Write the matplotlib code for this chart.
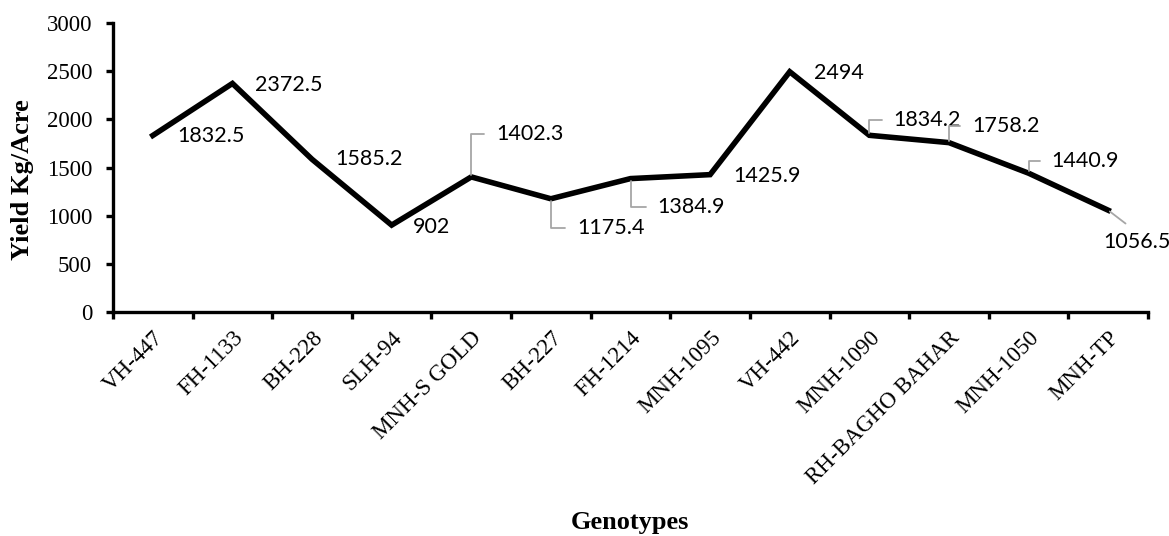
import numpy as np
import matplotlib
matplotlib.use("Agg")
import matplotlib.pyplot as plt

genotypes = ["VH-447", "FH-1133", "BH-228", "SLH-94", "MNH-S GOLD", "BH-227",
             "FH-1214", "MNH-1095", "VH-442", "MNH-1090", "RH-BAGHO BAHAR",
             "MNH-1050", "MNH-TP"]
yield_kg = [1832.5, 2372.5, 1585.2, 902, 1402.3, 1175.4, 1384.9, 1425.9,
            2494, 1834.2, 1758.2, 1440.9, 1056.5]
y_ticks = [0, 500, 1000, 1500, 2000, 2500, 3000]

# data label offsets in pixels (dx, dy) and leader line style
label_offsets = [(24, -1, None), (23, -2, None), (23, 0, None), (21, -2, None),
                 (25, 43, "elbow"), (26, -29, "elbow"), (27, -28, "elbow"), (23, -1, None),
                 (24, -1, None), (24, 15, "elbow"), (23, 17, "elbow"), (23, 12, "elbow"),
                 (-5, -32, "diag")]

fig = plt.figure(figsize=(11.69, 5.36), dpi=100)
ax = fig.add_axes([113 / 1169, 1 - 312 / 536, 1035 / 1169, 289 / 536])

x = np.arange(len(genotypes))
ax.plot(x, yield_kg, color="black", linewidth=4, solid_joinstyle="miter")

for xi, yi, (dx, dy, lead) in zip(x, yield_kg, label_offsets):
    kw = dict(xy=(xi, yi), xytext=(dx, dy), textcoords="offset pixels",
              ha="left", va="center", fontsize=15.5, family=["Lato", "DejaVu Sans"])
    if lead == "elbow":
        kw["arrowprops"] = dict(arrowstyle="-", color="#a6a6a6", lw=1.3,
                                connectionstyle="angle,angleA=0,angleB=90,rad=0",
                                relpos=(0, 0.5), shrinkA=6.5, shrinkB=1.5)
    elif lead == "diag":
        kw["arrowprops"] = dict(arrowstyle="-", color="#a6a6a6", lw=1.3,
                                relpos=(0.5, 1.0), shrinkA=7, shrinkB=1.5)
    ax.annotate(f"{yi:g}", **kw)

ax.set_xlim(-0.5, len(genotypes) - 0.5)
ax.set_ylim(0, 3000)
ax.set_yticks(y_ticks)
ax.set_xticks(x)
ax.set_xticks(np.arange(-0.5, len(genotypes)), minor=True)
ax.set_xticklabels(genotypes, rotation=45, ha="right", va="top", rotation_mode="anchor",
                   family="Liberation Serif", fontsize=16.5)
for lab in ax.get_yticklabels():
    lab.set_family("Liberation Serif")
    lab.set_fontsize(16.5)

ax.tick_params(axis="x", which="major", length=0, pad=11)
ax.tick_params(axis="x", which="minor", length=5, width=2.4, direction="out")
ax.tick_params(axis="y", length=5, width=2.4, direction="out", pad=10)

for side in ("top", "right"):
    ax.spines[side].set_visible(False)
for side in ("left", "bottom"):
    ax.spines[side].set_linewidth(2.4)

fig.text(23 / 1169, 1 - 180 / 536, "Yield Kg/Acre", rotation=90, family="Liberation Serif",
         fontsize=19, fontweight="bold", ha="center", va="center")
fig.text(630 / 1169, 1 - 522 / 536, "Genotypes", family="Liberation Serif", fontsize=19,
         fontweight="bold", ha="center", va="center")

fig.savefig("out.png", dpi=100)
